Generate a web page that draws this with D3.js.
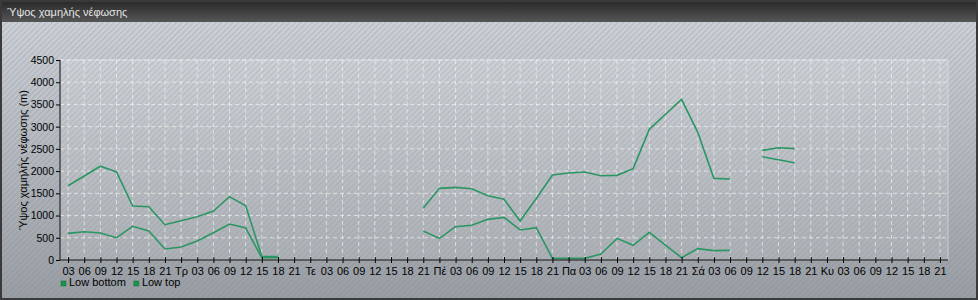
<!DOCTYPE html>
<html>
<head>
<meta charset="utf-8">
<script src="https://cdn.jsdelivr.net/npm/d3@7"></script>
<style>
  body { margin: 0; padding: 0; background: #fff; }
  svg { display: block; font-family: "Liberation Sans", Arial, sans-serif; }
</style>
</head>
<body>
<div id="chart"></div>
<script>
var chartTitle = "Ύψος χαμηλής νέφωσης",
    yTitle = "Ύψος χαμηλής νέφωσης (m)",
    dayNames = ["", "Τρ", "Τε", "Πέ", "Πα", "Σά", "Κυ"];

// one slot every 3 hours, from 03:00 of the first day to 21:00 of the seventh
var hours = d3.range(3, 166, 3);

var lowBottom = [600, 637, 607, 502, 757, 652, 247, 292, 427, 615, 810, 720, 50, 50,
  null, null, null, null, null, null, null, null,
  652, 487, 750, 780, 915, 960, 675, 727, 37, 37, 37, 135, 487, 330, 622, 337, 52, 255, 210, 217,
  null, 2325, 2257, 2190,
  null, null, null, null, null, null, null, null, null];

var lowTop = [1670, 1890, 2110, 1980, 1215, 1200, 795, 885, 975, 1100, 1425, 1220, 80, 80,
  null, null, null, null, null, null, null, null,
  1162, 1612, 1635, 1605, 1447, 1365, 877, 1385, 1912, 1957, 1980, 1895, 1905, 2055, 2940, 3280, 3615, 2872, 1837, 1822,
  null, 2467, 2527, 2505,
  null, null, null, null, null, null, null, null, null];

var yTicks = [0, 500, 1000, 1500, 2000, 2500, 3000, 3500, 4000, 4500];

var series = [
  {name: "Low bottom", values: lowBottom},
  {name: "Low top", values: lowTop}
];

var width = 978,
    height = 300,
    margin = {top: 60, right: 30, bottom: 40, left: 60},
    lineColor = "#2b9664";

var svg = d3.select("#chart").append("svg")
  .attr("width", width)
  .attr("height", height);

var defs = svg.append("defs");

var bg = defs.append("linearGradient").attr("id", "bg")
  .attr("x1", 0).attr("y1", 0).attr("x2", 0).attr("y2", 1);
bg.append("stop").attr("offset", "0%").attr("stop-color", "#d2d6da");
bg.append("stop").attr("offset", "100%").attr("stop-color", "#9a9ea2");

var bar = defs.append("linearGradient").attr("id", "bar")
  .attr("x1", 0).attr("y1", 0).attr("x2", 0).attr("y2", 1);
bar.append("stop").attr("offset", "0%").attr("stop-color", "#262626");
bar.append("stop").attr("offset", "100%").attr("stop-color", "#565656");

var stripes = defs.append("pattern").attr("id", "stripes")
  .attr("patternUnits", "userSpaceOnUse")
  .attr("width", 4).attr("height", 4)
  .attr("patternTransform", "rotate(45)");
stripes.append("rect").attr("width", 1.3).attr("height", 4)
  .attr("fill", "#7a8aa0").attr("opacity", 0.3);

// background + frame
svg.append("rect").attr("width", width).attr("height", height).attr("fill", "url(#bg)");
svg.append("rect").attr("width", width).attr("height", height).attr("fill", "url(#stripes)");
svg.append("rect").attr("width", width).attr("height", 22).attr("fill", "url(#bar)");
svg.append("rect")
  .attr("x", 1).attr("y", 1)
  .attr("width", width - 2).attr("height", height - 2)
  .attr("fill", "none")
  .attr("stroke", "#3a3a3a")
  .attr("stroke-width", 2);

svg.append("text")
  .attr("x", 7).attr("y", 16)
  .attr("fill", "#e6e6e6")
  .style("font-size", "11px")
  .text(chartTitle);

var x = d3.scaleLinear()
  .domain([1.5, 166.5])
  .range([margin.left, width - margin.right]);

var y = d3.scaleLinear()
  .domain([0, 4500])
  .range([height - margin.bottom, margin.top]);

// plot area
svg.append("rect")
  .attr("x", x.range()[0]).attr("y", y(4500))
  .attr("width", x.range()[1] - x.range()[0])
  .attr("height", y(0) - y(4500))
  .attr("fill", "#ffffff")
  .attr("fill-opacity", 0.12)
  .attr("stroke", "#e4e6e8")
  .attr("stroke-opacity", 0.6);

var grid = svg.append("g").attr("class", "grid");

grid.selectAll("line.v")
  .data(hours)
  .enter().append("line")
  .attr("class", "v")
  .attr("x1", d => x(d)).attr("x2", d => x(d))
  .attr("y1", y(4500)).attr("y2", y(0))
  .attr("stroke", "#f2f2f2")
  .attr("stroke-opacity", 0.7)
  .attr("stroke-dasharray", "4,3");

grid.selectAll("line.h")
  .data(yTicks.filter(d => d > 0))
  .enter().append("line")
  .attr("class", "h")
  .attr("x1", x.range()[0]).attr("x2", x.range()[1])
  .attr("y1", d => y(d)).attr("y2", d => y(d))
  .attr("stroke", "#f2f2f2")
  .attr("stroke-opacity", 0.7)
  .attr("stroke-dasharray", "4,3");

var line = d3.line()
  .defined(d => d.v != null)
  .x(d => x(d.h))
  .y(d => y(d.v));

svg.selectAll("path.series")
  .data(series)
  .enter().append("path")
  .attr("class", "series")
  .attr("d", s => line(s.values.map((v, i) => ({h: hours[i], v: v}))))
  .attr("fill", "none")
  .attr("stroke", lineColor)
  .attr("stroke-width", 1.6);

// axes
var xAxis = d3.axisBottom(x)
  .tickValues(hours)
  .tickSize(3)
  .tickPadding(4)
  .tickFormat(function(h) {
    var hh = h % 24;
    return hh == 0 ? dayNames[h / 24] : d3.format("02d")(hh);
  });

var gx = svg.append("g")
  .attr("transform", "translate(0," + y(0) + ")")
  .call(xAxis);
gx.selectAll(".tick line").attr("y1", -3).attr("stroke", "#000");
gx.select(".domain").attr("d", "M" + x.range()[0] + ",0H" + x.range()[1]).attr("stroke", "#000");
gx.selectAll("text").attr("fill", "#000").style("font-size", "11px").attr("dy", "0.72em");

var yAxis = d3.axisLeft(y)
  .tickValues(yTicks)
  .tickSize(4)
  .tickPadding(2)
  .tickFormat(d3.format("d"));

var gy = svg.append("g")
  .attr("transform", "translate(" + x.range()[0] + ",0)")
  .call(yAxis);
gy.select(".domain").attr("d", "M0," + y(0) + "V" + y(4500)).attr("stroke", "#000");
gy.selectAll(".tick line").attr("stroke", "#000");
gy.selectAll("text").attr("fill", "#000").style("font-size", "10.5px");

svg.append("text")
  .attr("transform", "translate(23," + (y(0) + y(4500)) / 2 + ") rotate(-90)")
  .attr("text-anchor", "middle")
  .attr("dy", "0.35em")
  .style("font-size", "11px")
  .attr("fill", "#000")
  .text(yTitle);

// legend
var legend = svg.append("g")
  .attr("transform", "translate(61,278)");

var lx = 0;
series.forEach(function(s) {
  var g = legend.append("g").attr("transform", "translate(" + lx + ",0)");
  g.append("rect")
    .attr("x", 0).attr("y", 3)
    .attr("width", 5).attr("height", 5)
    .attr("fill", "#1d8f4e")
    .attr("stroke", "#157a3e")
    .attr("stroke-width", 0.6);
  var t = g.append("text")
    .attr("x", 8).attr("y", 8)
    .style("font-size", "11px")
    .attr("fill", "#000")
    .text(s.name);
  lx += 8 + t.node().getComputedTextLength() + 8;
});
</script>
</body>
</html>
